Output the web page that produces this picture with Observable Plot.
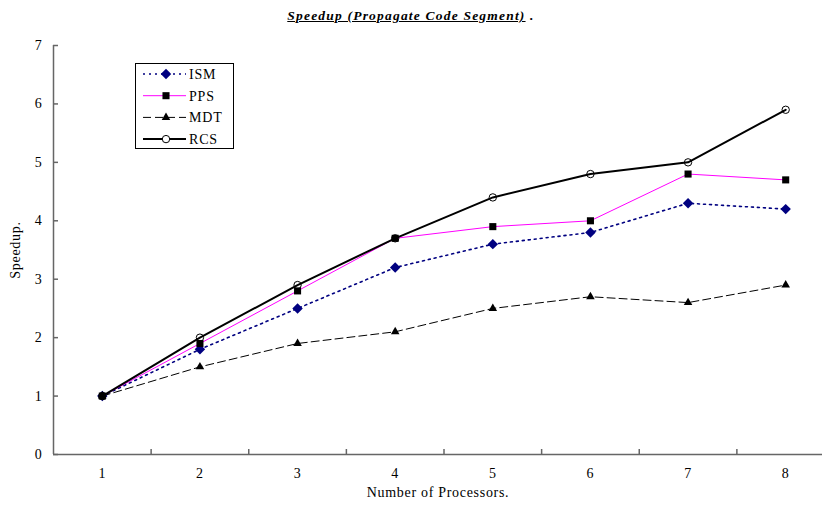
<!DOCTYPE html>
<html>
<head>
<meta charset="utf-8">
<script src="https://cdn.jsdelivr.net/npm/d3@7"></script>
<script src="https://cdn.jsdelivr.net/npm/@observablehq/plot@0.6"></script>
<style>
  body { margin: 0; background: #fff; }
  #wrap { position: relative; width: 822px; height: 505px; font-family: "Liberation Serif", "DejaVu Serif", serif; }
  #title { height: 30px; line-height: 30px; text-align: center; font-size: 13.5px; font-weight: bold; font-style: italic; letter-spacing: 1.2px; box-sizing: border-box; padding-top: 1px; }
  #legend { position: absolute; left: 135px; top: 63px; }
</style>
</head>
<body>
<div id="wrap">
  <div id="title"><u>Speedup (Propagate Code Segment)</u> .</div>
  <div id="chart"></div>
  <svg id="legend" width="100" height="87"></svg>
</div>
<script>
const processors = [1, 2, 3, 4, 5, 6, 7, 8];
const ISM = [1, 1.8, 2.5, 3.2, 3.6, 3.8, 4.3, 4.2];
const PPS = [1, 1.9, 2.8, 3.7, 3.9, 4.0, 4.8, 4.7];
const MDT = [1, 1.5, 1.9, 2.1, 2.5, 2.7, 2.6, 2.9];
const RCS = [1, 2.0, 2.9, 3.7, 4.4, 4.8, 5.0, 5.9];
const seriesNames = ["ISM", "PPS", "MDT", "RCS"];
const yTicks = [0, 1, 2, 3, 4, 5, 6, 7];
const xBoundaries = [1.5, 2.5, 3.5, 4.5, 5.5, 6.5, 7.5];

const styles = {
  ISM: {stroke: "#000080", strokeWidth: 1.6, dash: "2,4", symbol: "diamond2", fill: "#000080", r: 4.7},
  PPS: {stroke: "#ff00ff", strokeWidth: 1, dash: null, symbol: "square2", fill: "#000", r: 4.5},
  MDT: {stroke: "#000", strokeWidth: 1, dash: "8,4", symbol: "triangle2", fill: "#000", r: 4.1},
  RCS: {stroke: "#000", strokeWidth: 2, dash: null, symbol: "circle", fill: "none", r: 3.7}
};
const values = {ISM, PPS, MDT, RCS};
const data = seriesNames.flatMap(s => processors.map((p, i) => ({series: s, x: p, y: values[s][i]})));

const marks = [];
for (const s of seriesNames) {
  const st = styles[s];
  marks.push(Plot.line(data.filter(d => d.series === s), {
    x: "x", y: "y", stroke: st.stroke, strokeWidth: st.strokeWidth,
    strokeDasharray: st.dash, strokeLinejoin: "round"
  }));
}
for (const s of seriesNames) {
  const st = styles[s];
  marks.push(Plot.dot(data.filter(d => d.series === s), {
    x: "x", y: "y", symbol: st.symbol, r: st.r,
    fill: st.fill, stroke: s === "RCS" ? "#000" : "none", strokeWidth: 1
  }));
}

const chart = Plot.plot({
  width: 822,
  height: 475,
  marginTop: 15,
  marginLeft: 53,
  marginRight: 0,
  marginBottom: 51,
  style: {fontFamily: "'Liberation Serif', serif", fontSize: "14px", letterSpacing: "0.7px", color: "#000", background: "#fff"},
  x: {domain: [0.5, 8.5], range: [53, 834]},
  y: {domain: [0, 7]},
  marks: [
    Plot.axisY({ticks: yTicks, tickSize: -5, tickPadding: 16, tickFormat: d => String(d), stroke: "#666", strokeWidth: 1.5,
      label: "Speedup.", labelAnchor: "center", labelArrow: "none", labelOffset: 43, fontSize: 14}),
    Plot.axisX({ticks: xBoundaries, tickSize: -5, tickFormat: () => "", stroke: "#666", strokeWidth: 1.5, label: null}),
    Plot.axisX({ticks: processors, tickSize: 0, tickPadding: 14, tickFormat: d => String(d),
      label: "Number of Processors.", labelAnchor: "center", labelArrow: "none", labelOffset: 42, fontSize: 14}),
    Plot.ruleY([0], {stroke: "#666", strokeWidth: 1.5}),
    Plot.ruleX([0.5], {stroke: "#666", strokeWidth: 1.5}),
    ...marks
  ]
});
document.getElementById("chart").appendChild(chart);

// Legend
const lg = d3.select("#legend");
lg.append("rect").attr("x", 0.5).attr("y", 0.5).attr("width", 98).attr("height", 85)
  .attr("fill", "#fff").attr("stroke", "#000").attr("stroke-width", 1);
const symMap = {diamond2: d3.symbolDiamond2, square2: d3.symbolSquare2, triangle2: d3.symbolTriangle2, circle: d3.symbolCircle};
seriesNames.forEach((s, i) => {
  const st = styles[s];
  const y = 11 + i * 21.7;
  lg.append("line").attr("x1", 8).attr("x2", 51).attr("y1", y).attr("y2", y)
    .attr("stroke", st.stroke).attr("stroke-width", st.strokeWidth)
    .attr("stroke-dasharray", st.dash);
  lg.append("path").attr("transform", `translate(31,${y})`)
    .attr("d", d3.symbol(symMap[st.symbol], Math.PI * st.r * st.r)())
    .attr("fill", st.fill === "none" ? "#fff" : st.fill)
    .attr("stroke", s === "RCS" ? "#000" : "none");
  lg.append("text").attr("x", 54).attr("y", y).attr("dy", "0.35em")
    .attr("font-family", "'Liberation Serif', serif").attr("font-size", 14)
    .attr("letter-spacing", "0.8px").text(s);
});
</script>
</body>
</html>
